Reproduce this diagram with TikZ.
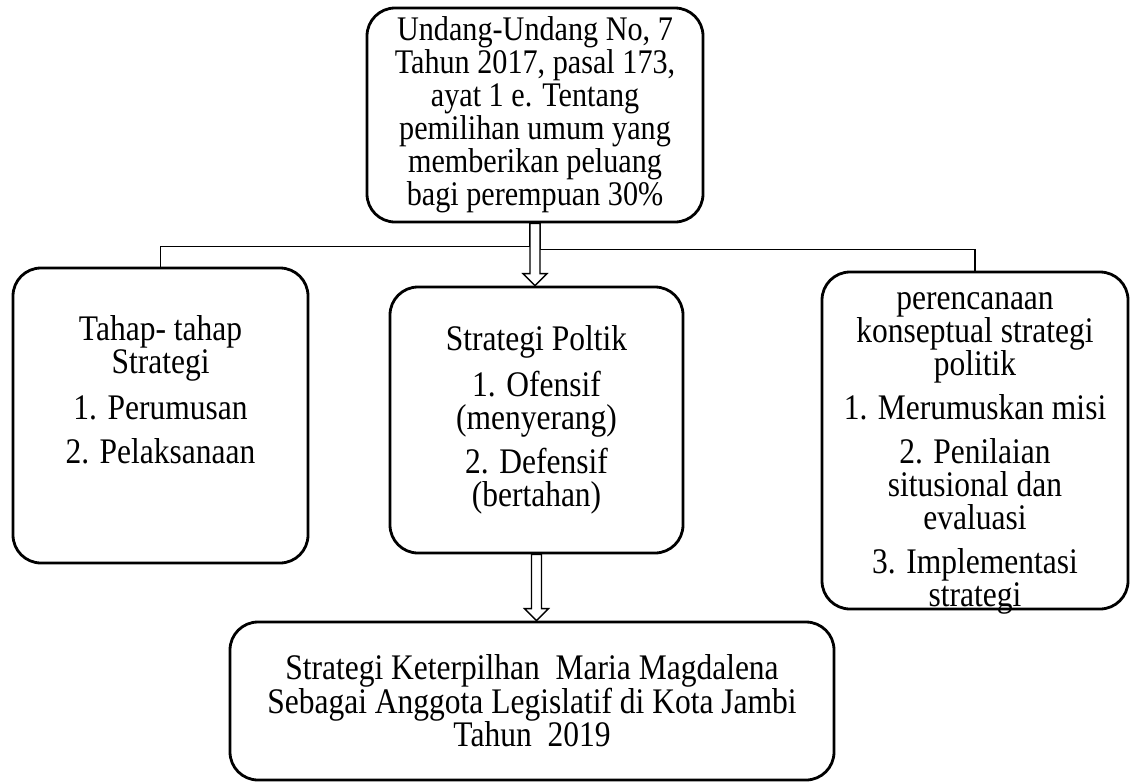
\documentclass[tikz,border=0pt]{standalone}
\usepackage{fontspec}
\setmainfont{Liberation Serif}[FakeStretch=0.875]

\tikzset{
  kotak/.style={draw, line width=2.8pt, rounded corners=28pt, inner sep=0pt,
    align=center, font=\fontsize{36}{33}\selectfont},
  garis/.style={line width=1.2pt},
  panahgaris/.style={line width=1.3pt, fill=white},
}
% panah blok dari #1 turun ke #2
\newcommand{\panah}[2]{%
  \draw[panahgaris] ([xshift=-5pt]#1) -- ([xshift=-5pt,yshift=12pt]#2)
    -- ([xshift=-12pt,yshift=12pt]#2) -- (#2) -- ([xshift=12pt,yshift=12pt]#2)
    -- ([xshift=5pt,yshift=12pt]#2) -- ([xshift=5pt]#1) -- cycle;}

\begin{document}
\begin{tikzpicture}[x=1pt, y=-1pt]
\useasboundingbox (0,0) rectangle (1131,782);

% Undang-undang
\node[kotak, font=\fontsize{34.5}{33}\selectfont, minimum width=336pt, minimum height=214pt] (uu) at (535,115)
  {Undang-Undang No, 7\\Tahun 2017, pasal 173,\\ayat 1 e. Tentang\\pemilihan umum yang\\memberikan peluang\\bagi perempuan 30\%};

% Tiga kotak tengah
\node[kotak, minimum width=295pt, minimum height=295pt] (tahap) at (160.5,415.5)
  {Tahap- tahap\\Strategi\\[12pt]1. Perumusan\\[12pt]2. Pelaksanaan\rule[-51pt]{0pt}{0pt}};
\node[kotak, minimum width=293pt, minimum height=266pt] (strategi) at (536.5,420)
  {Strategi Poltik\\[12pt]1. Ofensif\\(menyerang)\\[10pt]2. Defensif\\(bertahan)};
\node[kotak, minimum width=306pt, minimum height=335pt] (rencana) at (975,440.5)
  {\rule{0pt}{37pt}perencanaan\\konseptual strategi\\politik\\[11pt]1. Merumuskan misi\\[11pt]2. Penilaian\\situsional dan\\evaluasi\\[11pt]3. Implementasi\\\smash{strategi}\rule[-3pt]{0pt}{0pt}};

% Hasil
\node[kotak, minimum width=604pt, minimum height=158pt] (hasil) at (532,701)
  {Strategi Keterpilhan~ Maria Magdalena\\Sebagai Anggota Legislatif di Kota Jambi\\Tahun~ 2019};

% Garis cabang
\draw[garis] ([xshift=-5pt]uu.south) -- ++(0,23) -| (tahap.north);
\draw[garis] ([xshift=5pt]uu.south) -- ++(0,26) -| (rencana.north);

% Panah
\coordinate (ujung1) at (uu.south |- strategi.north);
\panah{uu.south}{ujung1}
\coordinate (ujung2) at (strategi.south |- hasil.north);
\panah{strategi.south}{ujung2}
\end{tikzpicture}
\end{document}
